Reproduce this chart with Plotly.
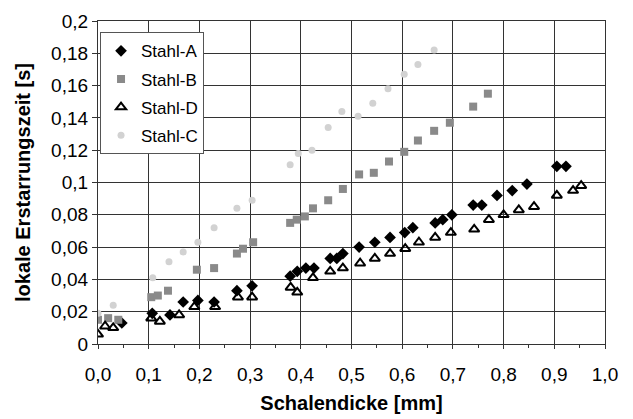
import plotly.graph_objects as go

# Stahl-A (black diamonds)
a_x = [0.047, 0.107, 0.142, 0.168, 0.197, 0.229, 0.274, 0.304, 0.379, 0.393, 0.410, 0.426,
       0.458, 0.471, 0.483, 0.515, 0.546, 0.576, 0.605, 0.621, 0.665, 0.680, 0.698, 0.740,
       0.757, 0.787, 0.817, 0.846, 0.905, 0.923]
a_y = [0.013, 0.019, 0.018, 0.026, 0.027, 0.026, 0.033, 0.036, 0.042, 0.045, 0.047, 0.047,
       0.053, 0.053, 0.056, 0.060, 0.063, 0.066, 0.069, 0.072, 0.075, 0.077, 0.080, 0.086,
       0.086, 0.092, 0.095, 0.099, 0.110, 0.110]

# Stahl-B (grey squares)
b_x = [0.000, 0.020, 0.040, 0.105, 0.118, 0.138, 0.195, 0.229, 0.274, 0.286, 0.306, 0.379,
       0.392, 0.408, 0.424, 0.454, 0.483, 0.515, 0.544, 0.574, 0.604, 0.631, 0.663, 0.694,
       0.740, 0.769]
b_y = [0.015, 0.016, 0.015, 0.029, 0.030, 0.033, 0.046, 0.047, 0.056, 0.059, 0.063, 0.075,
       0.077, 0.079, 0.084, 0.089, 0.096, 0.105, 0.106, 0.113, 0.119, 0.126, 0.132, 0.137,
       0.147, 0.155]

# Stahl-D (open triangles)
d_x = [0.000, 0.014, 0.030, 0.105, 0.122, 0.160, 0.190, 0.231, 0.276, 0.304, 0.380, 0.393,
       0.424, 0.458, 0.483, 0.517, 0.546, 0.576, 0.606, 0.633, 0.665, 0.696, 0.742, 0.771,
       0.800, 0.830, 0.860, 0.905, 0.937, 0.953]
d_y = [0.006, 0.011, 0.010, 0.016, 0.014, 0.018, 0.023, 0.023, 0.029, 0.029, 0.035, 0.032,
       0.041, 0.045, 0.047, 0.050, 0.053, 0.056, 0.059, 0.063, 0.066, 0.069, 0.071, 0.077,
       0.080, 0.083, 0.085, 0.092, 0.095, 0.098]

# Stahl-C (light grey circles)
c_x = [0.000, 0.030, 0.108, 0.140, 0.168, 0.197, 0.229, 0.274, 0.304, 0.379, 0.395, 0.422,
       0.454, 0.481, 0.513, 0.542, 0.572, 0.604, 0.631, 0.663]
c_y = [0.019, 0.024, 0.041, 0.051, 0.057, 0.063, 0.072, 0.084, 0.089, 0.111, 0.118, 0.120,
       0.134, 0.144, 0.141, 0.149, 0.158, 0.167, 0.173, 0.182]

x_ticks = [0.0, 0.1, 0.2, 0.3, 0.4, 0.5, 0.6, 0.7, 0.8, 0.9, 1.0]
x_labels = ["0,0", "0,1", "0,2", "0,3", "0,4", "0,5", "0,6", "0,7", "0,8", "0,9", "1,0"]
y_ticks = [0, 0.02, 0.04, 0.06, 0.08, 0.1, 0.12, 0.14, 0.16, 0.18, 0.2]
y_labels = ["0", "0,02", "0,04", "0,06", "0,08", "0,1", "0,12", "0,14", "0,16", "0,18", "0,2"]

fig = go.Figure()
fig.add_trace(go.Scatter(x=a_x, y=a_y, mode="markers", name="Stahl-A", legendgroup="a",
                         marker=dict(symbol="diamond", size=9, color="black")))
fig.add_trace(go.Scatter(x=b_x, y=b_y, mode="markers", name="Stahl-B", legendgroup="b",
                         marker=dict(symbol="square", size=8, color="#8a8a8a")))
fig.add_trace(go.Scatter(x=d_x, y=d_y, mode="markers", name="Stahl-D", legendgroup="d",
                         marker=dict(symbol="triangle-up-open", size=9, color="black",
                                     line=dict(width=2, color="black"))))
fig.add_trace(go.Scatter(x=c_x, y=c_y, mode="markers", name="Stahl-C", legendgroup="c",
                         marker=dict(symbol="circle", size=7, color="#d2d2d2")))

font = "Liberation Sans"
grid = "#333333"
fig.update_layout(
    width=633, height=419,
    margin=dict(l=98, r=28, t=21, b=75),
    paper_bgcolor="white", plot_bgcolor="white",
    font=dict(family=font, size=19, color="black"),
    showlegend=True,
    legend=dict(x=0.004, y=0.965, xanchor="left", yanchor="top",
                bgcolor="white", bordercolor="#555", borderwidth=1,
                font=dict(size=17), tracegroupgap=3, itemwidth=30),
    xaxis=dict(range=[0, 1.0], tickvals=x_ticks, ticktext=x_labels, automargin=False,
               showgrid=True, gridcolor=grid, gridwidth=1.3,
               showline=True, linecolor=grid, linewidth=1.3, mirror=True,
               ticks="outside", ticklen=4, tickcolor=grid, ticklabelstandoff=9,
               minor=dict(dtick=0.05, ticks="outside", ticklen=3, tickcolor=grid, showgrid=False),
               zeroline=False,
               title=dict(text="<b>Schalendicke [mm]</b>", font=dict(size=20), standoff=12)),
    yaxis=dict(range=[0, 0.2], tickvals=y_ticks, ticktext=y_labels, automargin=False,
               showgrid=True, gridcolor=grid, gridwidth=1.3,
               showline=True, linecolor=grid, linewidth=1.3, mirror=True,
               ticks="outside", ticklen=5, tickcolor=grid,
               zeroline=False,
               title=dict(text="<b>lokale Erstarrungszeit [s]</b>", font=dict(size=20), standoff=15)),
)

fig.write_html("out.html")
